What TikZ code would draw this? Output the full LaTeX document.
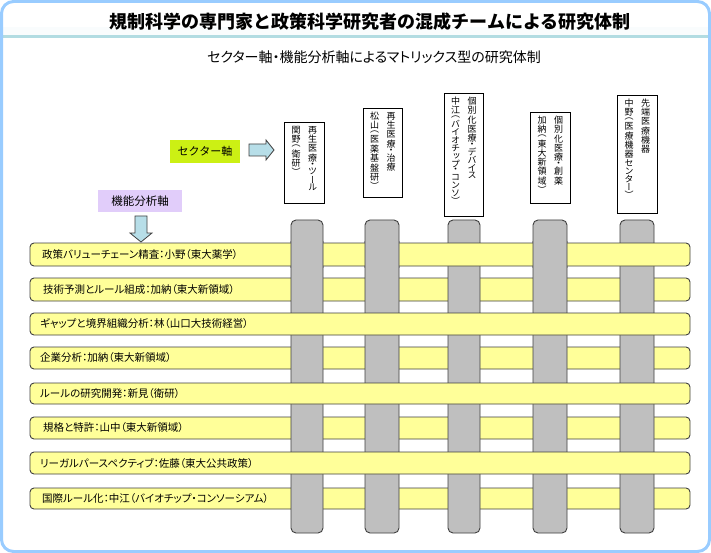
\documentclass[tikz,border=0pt]{standalone}
\usepackage{fontspec}
\newfontfamily\jp{Noto Sans CJK JP}
\newfontfamily\jpp[RawFeature=+palt]{Noto Sans CJK JP}
\newfontfamily\jpv[RawFeature=+vert]{Noto Sans CJK JP}
\definecolor{framec}{RGB}{153,204,255}
\definecolor{titleline}{RGB}{178,220,226}
\definecolor{rowyellow}{RGB}{255,255,153}
\definecolor{colgray}{RGB}{191,191,191}
\definecolor{limec}{RGB}{204,240,20}
\definecolor{lav}{RGB}{225,205,250}
\definecolor{arrowc}{RGB}{183,222,232}
\definecolor{edgec}{RGB}{64,64,64}
\ExplSyntaxOn
\tl_const:Nn \c_rs_narrow_tl {（）・}
\tl_const:Nn \c_rs_kana_tl {ツールバイオチプコンソセタデスッ}
\cs_new:Npn \rs_vchar:nn #1#2 { \hbox_to_wd:nn {11pt} { \hfil \vbox_to_ht:nn {#2pt} { \vfil \hbox:n {#1} \vfil } \hfil } }
\NewDocumentCommand \vtext {m} {
  \vbox_top:n { \offinterlineskip
   \tl_map_inline:nn {#1} {
     \tl_if_in:NnTF \c_rs_narrow_tl {##1} { \rs_vchar:nn {##1}{5} }
     { \tl_if_in:NnTF \c_rs_kana_tl {##1} { \rs_vchar:nn {##1}{8} } { \rs_vchar:nn {##1}{9.3} } }
   }
  }
}
\ExplSyntaxOff
% two vertical columns (left, right) in a box of given height
\newcommand\sectortext[3]{\vbox to #1{\vskip3pt\hbox{\jpv\fontsize{9}{9}\selectfont\vtext{#2}\kern5.5pt\vtext{#3}}\vss}}
\tikzset{
  rowbar/.style={draw=edgec, fill=rowyellow, rounded corners=4pt, line width=0.9pt},
  colbar/.style={draw=edgec, fill=colgray, rounded corners=5pt, line width=0.9pt},
  rowtext/.style={anchor=west, inner sep=0pt, font=\jpp\fontsize{10.5}{12}\selectfont},
  sectbox/.style={draw=black, fill=white, line width=0.8pt, anchor=north west, inner sep=0pt},
  blockarrow/.style={draw=edgec, fill=arrowc, line width=0.8pt},
}
\begin{document}
\begin{tikzpicture}[x=1pt,y=-1pt]
\useasboundingbox (0,0) rectangle (711,553);
\fill[white] (0,0) rectangle (711,553);
% frame
\fill[white!92!titleline] (3,27) rectangle (708,36);
\draw[titleline, line width=2.2pt] (3,36.5) -- (708,36.5);
\draw[framec, line width=3pt, rounded corners=12pt] (1.5,1.5) rectangle (709.5,551.5);
\node[font=\jp\bfseries\fontsize{18}{20}\selectfont, inner sep=0pt] (title) at (370,22) {規制科学の専門家と政策科学研究者の混成チームによる研究体制};
\node[font=\jpp\fontsize{14}{16}\selectfont, inner sep=0pt] (sub) at (374,57) {セクター軸・機能分析軸によるマトリックス型の研究体制};
% axis labels
\node[fill=limec, minimum width=70pt, minimum height=23pt, inner sep=0pt, font=\jp\fontsize{11}{12}\selectfont] (sect) at (205,151.5) {セクター軸};
\node[fill=lav, minimum width=84pt, minimum height=22pt, inner sep=0pt, font=\jp\fontsize{11.5}{12}\selectfont] (func) at (140,201) {機能分析軸};
\draw[blockarrow] (249,144) -- (266,144) -- (266,140) -- (274,150) -- (266,160) -- (266,156) -- (249,156) -- cycle;
\draw[blockarrow] (135,216) -- (147,216) -- (147,233) -- (152,233) -- (141,242) -- (130,233) -- (135,233) -- cycle;
% sector boxes
\node[sectbox, minimum width=40pt, minimum height=81pt] (s1) at (284,122) {\sectortext{81pt}{関野（衛研）}{再生医療・ツール}};
\node[sectbox, minimum width=39pt, minimum height=89pt] (s2) at (363,108) {\sectortext{89pt}{松山（医薬基盤研）}{再生医療・治療}};
\node[sectbox, minimum width=39pt, minimum height=123pt] (s3) at (444,93) {\sectortext{123pt}{中江（バイオチップ・コンソ）}{個別化医療・デバイス}};
\node[sectbox, minimum width=40pt, minimum height=91pt] (s4) at (530,112) {\sectortext{91pt}{加納（東大新領域）}{個別化医療・創薬}};
\node[sectbox, minimum width=40pt, minimum height=118pt] (s5) at (617,95) {\sectortext{118pt}{中野（医療機器センター）}{先端医療機器}};
% even rows (under all columns)
\draw[rowbar] (30,278) rectangle (690,301);
\node[rowtext] (t2) at (43,289.5) {技術予測とルール組成：加納（東大新領域）};
\draw[rowbar] (30,347) rectangle (690,369);
\node[rowtext] (t4) at (40,358) {企業分析：加納（東大新領域）};
\draw[rowbar] (30,417) rectangle (690,439);
\node[rowtext] (t6) at (43,428) {規格と特許：山中（東大新領域）};
\draw[rowbar] (30,488) rectangle (690,509);
\node[rowtext] (t8) at (42,498.5) {国際ルール化：中江（バイオチップ・コンソーシアム）};
% columns
\draw[colbar] (291,220) rectangle (323,533);
\draw[colbar] (365,220) rectangle (399,533);
\draw[colbar] (448,220) rectangle (480,533);
\draw[colbar] (533,220) rectangle (567,533);
\draw[colbar] (620,220) rectangle (654,533);
% odd rows (over columns)
\draw[rowbar] (30,243) rectangle (690,266);
\node[rowtext] (t1) at (42,254.5) {政策バリューチェーン精査：小野（東大薬学）};
\draw[rowbar] (30,313) rectangle (690,335);
\node[rowtext] (t3) at (40,324) {ギャップと境界組織分析：林（山口大技術経営）};
\draw[rowbar] (30,383) rectangle (690,404);
\node[rowtext] (t5) at (40,393.5) {ルールの研究開発：新見（衛研）};
\draw[rowbar] (30,452) rectangle (690,474);
\node[rowtext] (t7) at (40,463) {リーガルパースペクティブ：佐藤（東大公共政策）};
% columns 1,2,4 over row 1
\begin{scope}
\clip (0,241.5) rectangle (711,267.5);
\draw[colbar] (291,220) rectangle (323,533);
\draw[colbar] (365,220) rectangle (399,533);
\draw[colbar] (533,220) rectangle (567,533);
\end{scope}
\end{tikzpicture}
\end{document}
